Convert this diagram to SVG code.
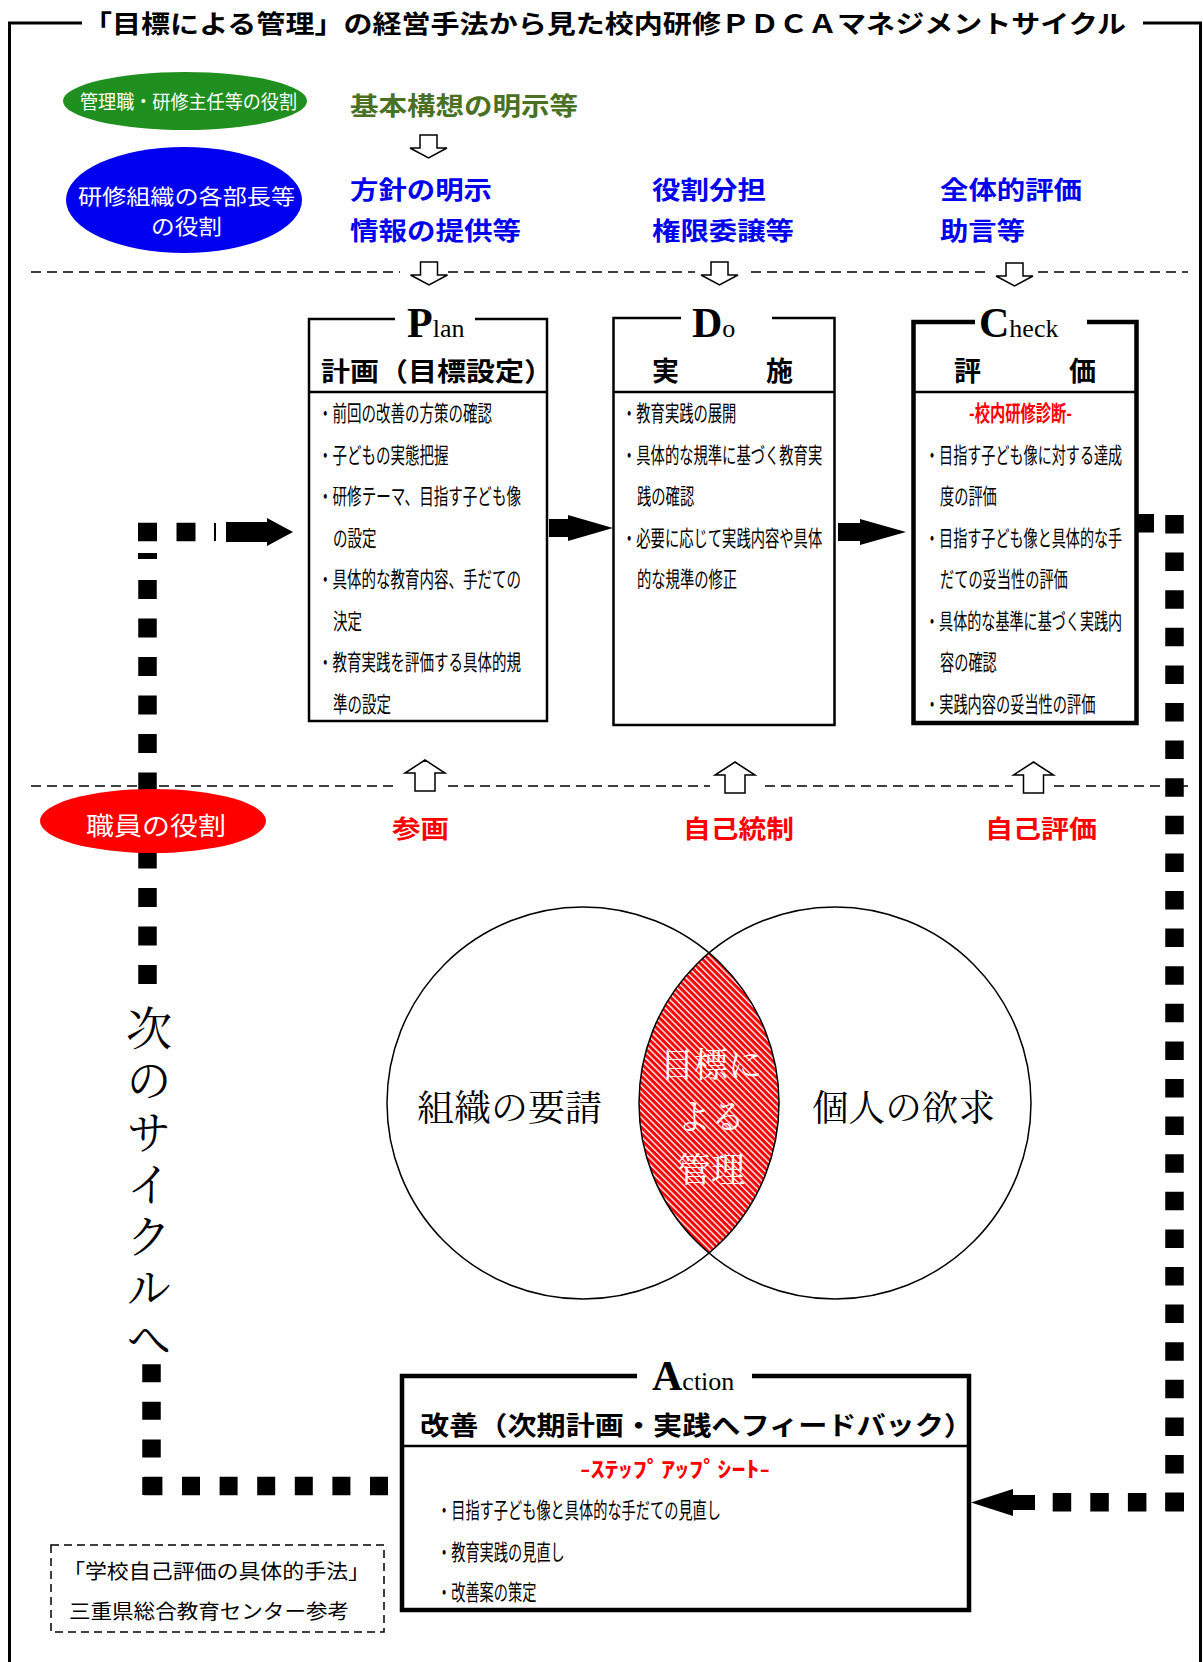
<svg xmlns="http://www.w3.org/2000/svg" width="1203" height="1662" viewBox="0 0 1203 1662">
<defs>
<style>
.jp{font-family:"Noto Sans CJK JP","Noto Sans CJK SC",sans-serif}
.b{font-weight:700}
.mincho{font-family:"Noto Serif CJK JP","Noto Sans CJK JP",serif;font-weight:400}
.lat{font-family:"Liberation Serif","Times New Roman",serif}
.box{fill:none;stroke:#000;stroke-width:2.5}
.thick{fill:none;stroke:#000;stroke-width:4.5}
.frame{fill:none;stroke:#000;stroke-width:3}
.sep{fill:none;stroke:#000;stroke-width:1.5;stroke-dasharray:10 6}
.hollow{fill:#fff;stroke:#000;stroke-width:1.5}
.dotl{fill:none;stroke:#000;stroke-width:18.5}
.dotr{fill:none;stroke:#000;stroke-width:18.5;stroke-dasharray:18.5 19.1}
.solid{fill:#000}
.item{font-size:22px;fill:#000}
.white{fill:#fff}
.red{fill:#f00}
.blue{fill:#0000ee}
.circ{fill:none;stroke:#000;stroke-width:1.5}
</style>
<pattern id="hatch" patternUnits="userSpaceOnUse" width="4.5" height="4.5" patternTransform="rotate(-45)">
<rect width="4.5" height="4.5" fill="#f00"/>
<rect width="1.4" height="4.5" fill="#fff"/>
</pattern>
</defs>
<rect width="1203" height="1662" fill="#fff"/>

<g id="frame">
<path class="frame" d="M9.5 1662 V23 H82"/>
<path class="frame" d="M1143 23 H1200.5 V1662"/>
<text class="jp b" x="83" y="33" font-size="25" textLength="1043" lengthAdjust="spacingAndGlyphs">「目標による管理」の経営手法から見た校内研修ＰＤＣＡマネジメントサイクル</text>
</g>

<g id="connectors">
<path class="sep" d="M31 272 H400 M448 272 H695 M751 272 H985 M1038 272 H1188"/>
<path class="sep" d="M31 786 H398 M448 786 H710 M765 786 H1013 M1054 786 H1188"/>
<path class="hollow" d="M420 135 H437 V148 H447 L428.5 158 L410 148 H420 Z"/>
<path class="hollow" d="M420.5 262 H437.5 V275 H447.5 L429 285 L410.5 275 H420.5 Z"/>
<path class="hollow" d="M711 262 H728 V275 H738 L719.5 285 L701 275 H711 Z"/>
<path class="hollow" d="M1006 263 H1023 V276 H1033 L1014.5 286 L996 276 H1006 Z"/>
<path class="hollow" d="M425 760 L445 773 H435 V791 H415 V773 H405 Z"/>
<path class="hollow" d="M735 762 L755 775 H745 V793 H725 V775 H715 Z"/>
<path class="hollow" d="M1033.5 762 L1053.5 775 H1043.5 V793 H1023.5 V775 H1013.5 Z"/>
<rect class="solid" x="549" y="519" width="19" height="18"/>
<polygon class="solid" points="568,515 613,528 568,541"/>
<rect class="solid" x="838" y="523" width="22" height="18"/>
<polygon class="solid" points="860,519 906,532 860,545"/>
<line class="dotl" x1="388" y1="1486" x2="142.5" y2="1486" stroke-dasharray="18 19.6"/>
<line class="dotl" x1="151.5" y1="1495" x2="151.5" y2="1364" stroke-dasharray="18 19.6"/>
<line class="dotl" x1="147.5" y1="580" x2="147.5" y2="985" stroke-dasharray="19 19.5"/>
<rect class="solid" x="138" y="553" width="19" height="6"/>
<line class="dotl" x1="138" y1="532" x2="196" y2="532" stroke-dasharray="19 19.5"/>
<rect class="solid" x="214" y="523" width="2" height="18"/>
<rect class="solid" x="226" y="522" width="41" height="20"/>
<polygon class="solid" points="267,518 293,532 267,546"/>
<rect class="solid" x="1137" y="514" width="17" height="18.5"/>
<line class="dotr" x1="1174.5" y1="515" x2="1174.5" y2="1511.5"/>
<line class="dotr" x1="1184" y1="1502.3" x2="1052" y2="1502.3"/>
<rect class="solid" x="1013" y="1495" width="22" height="15"/>
<polygon class="solid" points="1013,1489 971,1502.5 1013,1516"/>
</g>

<g id="node-mgmt-role">
<ellipse cx="185" cy="101" rx="122" ry="29" fill="#1f8f1f"/>
<text class="jp white" x="80" y="108.5" font-size="19" textLength="217" lengthAdjust="spacingAndGlyphs">管理職・研修主任等の役割</text>
</g>
<g id="label-kihon">
<text class="jp b" x="350" y="115" font-size="25" fill="#4a7023" textLength="228" lengthAdjust="spacingAndGlyphs">基本構想の明示等</text>
</g>

<g id="node-dept-role">
<ellipse cx="184" cy="200" rx="118" ry="53" fill="#0000f0"/>
<text class="jp white" x="78" y="204" font-size="21" textLength="217" lengthAdjust="spacingAndGlyphs">研修組織の各部長等</text>
<text class="jp white" x="151" y="234" font-size="21" textLength="71" lengthAdjust="spacingAndGlyphs">の役割</text>
</g>
<g id="label-dept">
<text class="jp b blue" x="350" y="198.5" font-size="25" textLength="142" lengthAdjust="spacingAndGlyphs">方針の明示</text>
<text class="jp b blue" x="350" y="240" font-size="25" textLength="171" lengthAdjust="spacingAndGlyphs">情報の提供等</text>
<text class="jp b blue" x="652" y="198.5" font-size="25" textLength="114" lengthAdjust="spacingAndGlyphs">役割分担</text>
<text class="jp b blue" x="652" y="240" font-size="25" textLength="142" lengthAdjust="spacingAndGlyphs">権限委譲等</text>
<text class="jp b blue" x="940" y="198.5" font-size="25" textLength="142" lengthAdjust="spacingAndGlyphs">全体的評価</text>
<text class="jp b blue" x="940" y="240" font-size="25" textLength="85" lengthAdjust="spacingAndGlyphs">助言等</text>
</g>

<g id="node-plan">
<path class="box" d="M395 319 H309 V721 H547 V319 H475"/>
<path class="box" d="M309 392 H547"/>
<text class="lat" x="407" y="337"><tspan font-size="42" font-weight="700">P</tspan><tspan font-size="26">lan</tspan></text>
<text class="jp b" x="321" y="381" font-size="26" textLength="232" lengthAdjust="spacingAndGlyphs">計画（目標設定）</text>
<text class="jp item" x="318" y="421" textLength="174" lengthAdjust="spacingAndGlyphs">・前回の改善の方策の確認</text>
<text class="jp item" x="318" y="462.5" textLength="130.5" lengthAdjust="spacingAndGlyphs">・子どもの実態把握</text>
<text class="jp item" x="318" y="504" textLength="203" lengthAdjust="spacingAndGlyphs">・研修テーマ、目指す子ども像</text>
<text class="jp item" x="333" y="545.5" textLength="43.5" lengthAdjust="spacingAndGlyphs">の設定</text>
<text class="jp item" x="318" y="587" textLength="203" lengthAdjust="spacingAndGlyphs">・具体的な教育内容、手だての</text>
<text class="jp item" x="333" y="628.5" textLength="29" lengthAdjust="spacingAndGlyphs">決定</text>
<text class="jp item" x="318" y="670" textLength="203" lengthAdjust="spacingAndGlyphs">・教育実践を評価する具体的規</text>
<text class="jp item" x="333" y="711.5" textLength="58" lengthAdjust="spacingAndGlyphs">準の設定</text>
</g>

<g id="node-do">
<path class="box" d="M681 318 H613.5 V725 H834.5 V318 H772"/>
<path class="box" d="M613.5 392 H834.5"/>
<text class="lat" x="692" y="337"><tspan font-size="42" font-weight="700">D</tspan><tspan font-size="26">o</tspan></text>
<text class="jp b" x="652" y="381" font-size="27">実</text>
<text class="jp b" x="766" y="381" font-size="27">施</text>
<text class="jp item" x="622" y="421" textLength="114.4" lengthAdjust="spacingAndGlyphs">・教育実践の展開</text>
<text class="jp item" x="622" y="462.5" textLength="200.2" lengthAdjust="spacingAndGlyphs">・具体的な規準に基づく教育実</text>
<text class="jp item" x="637" y="504" textLength="57.2" lengthAdjust="spacingAndGlyphs">践の確認</text>
<text class="jp item" x="622" y="545.5" textLength="200.2" lengthAdjust="spacingAndGlyphs">・必要に応じて実践内容や具体</text>
<text class="jp item" x="637" y="587" textLength="100.1" lengthAdjust="spacingAndGlyphs">的な規準の修正</text>
</g>

<g id="node-check">
<path class="thick" d="M975 322 H913.5 V723 H1136.5 V322 H1087"/>
<path class="box" d="M913.5 392 H1136.5"/>
<text class="lat" x="979" y="337"><tspan font-size="42" font-weight="700">C</tspan><tspan font-size="26">heck</tspan></text>
<text class="jp b" x="954" y="381" font-size="27">評</text>
<text class="jp b" x="1069" y="381" font-size="27">価</text>
<text class="jp b red" x="969" y="421" font-size="22" textLength="103" lengthAdjust="spacingAndGlyphs">-校内研修診断-</text>
<text class="jp item" transform="translate(925 462.5) scale(0.64 1)" textLength="308" lengthAdjust="spacingAndGlyphs">・目指す子ども像に対する達成</text>
<text class="jp item" x="940" y="504" textLength="56.8" lengthAdjust="spacingAndGlyphs">度の評価</text>
<text class="jp item" transform="translate(925 545.5) scale(0.64 1)" textLength="308" lengthAdjust="spacingAndGlyphs">・目指す子ども像と具体的な手</text>
<text class="jp item" x="940" y="587" textLength="127.8" lengthAdjust="spacingAndGlyphs">だての妥当性の評価</text>
<text class="jp item" transform="translate(925 628.5) scale(0.64 1)" textLength="308" lengthAdjust="spacingAndGlyphs">・具体的な基準に基づく実践内</text>
<text class="jp item" x="940" y="670" textLength="56.8" lengthAdjust="spacingAndGlyphs">容の確認</text>
<text class="jp item" x="925" y="711.5" textLength="170.4" lengthAdjust="spacingAndGlyphs">・実践内容の妥当性の評価</text>
</g>

<g id="node-staff-role">
<ellipse cx="153" cy="821" rx="113" ry="32" fill="#f00"/>
<text class="jp white" x="86" y="835" font-size="25" textLength="140" lengthAdjust="spacingAndGlyphs">職員の役割</text>
</g>
<g id="label-staff">
<text class="jp b red" x="392" y="838" font-size="25" textLength="57" lengthAdjust="spacingAndGlyphs">参画</text>
<text class="jp b red" x="683" y="838" font-size="25" textLength="111" lengthAdjust="spacingAndGlyphs">自己統制</text>
<text class="jp b red" x="985" y="838" font-size="25" textLength="112" lengthAdjust="spacingAndGlyphs">自己評価</text>
</g>

<g id="node-venn">
<path d="M709 952.8 A196 196 0 0 1 709 1253.2 A196 196 0 0 1 709 952.8 Z" fill="url(#hatch)"/>
<circle class="circ" cx="583" cy="1103" r="196"/>
<circle class="circ" cx="835" cy="1103" r="196"/>
<text class="mincho" x="417" y="1121" font-size="36" textLength="185" lengthAdjust="spacingAndGlyphs">組織の要請</text>
<text class="mincho" x="812" y="1121" font-size="36" textLength="183" lengthAdjust="spacingAndGlyphs">個人の欲求</text>
<text class="mincho white" x="711" y="1077" font-size="34" text-anchor="middle">目標に</text>
<text class="mincho white" x="711" y="1129" font-size="34" text-anchor="middle">よる</text>
<text class="mincho white" x="711" y="1182" font-size="34" text-anchor="middle">管理</text>
</g>

<g id="label-next-cycle">
<text class="mincho" x="149" y="1005" font-size="46" writing-mode="vertical-rl" letter-spacing="5.8">次のサイクルへ</text>
</g>

<g id="node-action">
<path class="thick" d="M637 1376 H402 V1610 H969 V1376 H752"/>
<path class="box" d="M402 1446 H969"/>
<text class="lat" x="652" y="1390"><tspan font-size="42" font-weight="700">A</tspan><tspan font-size="26">ction</tspan></text>
<text class="jp b" x="420" y="1435" font-size="26" textLength="553" lengthAdjust="spacingAndGlyphs">改善（次期計画・実践へフィードバック）</text>
<text class="jp b red" x="580" y="1477" font-size="22" textLength="190" lengthAdjust="spacingAndGlyphs">-ｽﾃｯﾌﾟｱｯﾌﾟｼｰﾄ-</text>
<text class="jp item" x="437" y="1518" textLength="284" lengthAdjust="spacingAndGlyphs">・目指す子ども像と具体的な手だての見直し</text>
<text class="jp item" x="437" y="1560" textLength="127.8" lengthAdjust="spacingAndGlyphs">・教育実践の見直し</text>
<text class="jp item" x="437" y="1600" textLength="99.4" lengthAdjust="spacingAndGlyphs">・改善案の策定</text>
</g>

<g id="node-footer">
<rect x="51" y="1545" width="333" height="87" fill="none" stroke="#000" stroke-width="1.5" stroke-dasharray="8 5"/>
<text class="jp" x="63" y="1579" font-size="20" textLength="307" lengthAdjust="spacingAndGlyphs">「学校自己評価の具体的手法」</text>
<text class="jp" x="69" y="1619" font-size="20" textLength="280" lengthAdjust="spacingAndGlyphs">三重県総合教育センター参考</text>
</g>
</svg>
